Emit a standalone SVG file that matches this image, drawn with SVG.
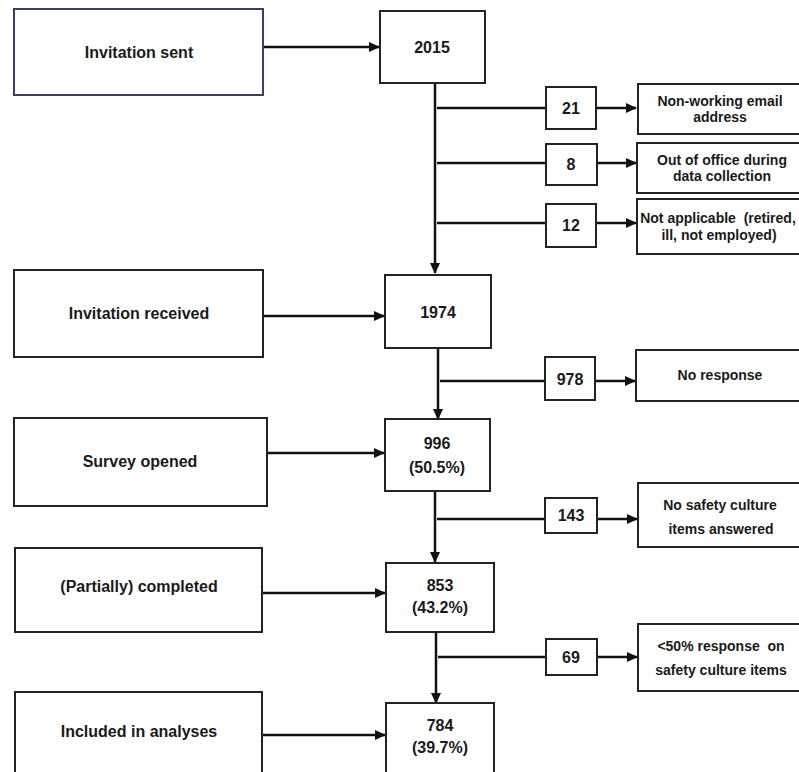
<svg xmlns="http://www.w3.org/2000/svg" width="799" height="772" viewBox="0 0 799 772">
<defs>
<style>
.box{fill:#fff;stroke:#222;stroke-width:2}
.blue{stroke:#3a3f68}
.t{font-family:"Liberation Sans",Arial,sans-serif;font-weight:bold;font-size:16px;fill:#1a1a1a;text-anchor:middle}
.s{font-size:14px}
.ln{fill:none;stroke:#111;stroke-width:2.5}
</style>
<marker id="ah" markerWidth="11" markerHeight="11" refX="10" refY="5.5" orient="auto" markerUnits="userSpaceOnUse">
<path d="M0,0.5 L11,5.5 L0,10.5 Z" fill="#111"/>
</marker>
</defs>
<rect width="799" height="772" fill="#fff"/>
<g id="connectors">
<line class="ln" x1="263" y1="47" x2="379" y2="47" marker-end="url(#ah)"/>
<line class="ln" x1="435" y1="83" x2="435" y2="273" marker-end="url(#ah)"/>
<line class="ln" x1="437" y1="108" x2="546" y2="108"/>
<line class="ln" x1="596" y1="108" x2="636" y2="108" marker-end="url(#ah)"/>
<line class="ln" x1="437" y1="163" x2="546" y2="163"/>
<line class="ln" x1="597" y1="163" x2="636" y2="163" marker-end="url(#ah)"/>
<line class="ln" x1="437" y1="223" x2="546" y2="223"/>
<line class="ln" x1="596" y1="223" x2="636" y2="223" marker-end="url(#ah)"/>
<line class="ln" x1="263" y1="316" x2="384" y2="316" marker-end="url(#ah)"/>
<line class="ln" x1="438" y1="348" x2="438" y2="419" marker-end="url(#ah)"/>
<line class="ln" x1="440" y1="381" x2="545" y2="381"/>
<line class="ln" x1="595" y1="381" x2="635" y2="381" marker-end="url(#ah)"/>
<line class="ln" x1="267" y1="453" x2="384" y2="453" marker-end="url(#ah)"/>
<line class="ln" x1="435" y1="491" x2="435" y2="562" marker-end="url(#ah)"/>
<line class="ln" x1="437" y1="519" x2="545" y2="519"/>
<line class="ln" x1="597" y1="519" x2="637" y2="519" marker-end="url(#ah)"/>
<line class="ln" x1="262" y1="593" x2="385" y2="593" marker-end="url(#ah)"/>
<line class="ln" x1="436" y1="632" x2="436" y2="703" marker-end="url(#ah)"/>
<line class="ln" x1="438" y1="657" x2="546" y2="657"/>
<line class="ln" x1="597" y1="657" x2="637" y2="657" marker-end="url(#ah)"/>
<line class="ln" x1="262" y1="735" x2="385" y2="735" marker-end="url(#ah)"/>
</g>
<g id="invitation-sent"><rect class="box blue" x="14" y="9" width="249" height="86"/><text class="t" x="139" y="58">Invitation sent</text></g>
<g id="n2015"><rect class="box" x="380" y="11" width="105" height="72"/><text class="t" x="432" y="53">2015</text></g>
<g id="n21"><rect class="box" x="546" y="87" width="50" height="42"/><text class="t" x="571" y="114">21</text></g>
<g id="non-working"><rect class="box" x="638" y="84" width="170" height="50"/><text class="t s" x="720" y="106">Non-working email</text><text class="t s" x="720" y="122">address</text></g>
<g id="n8"><rect class="box" x="546" y="144" width="51" height="41"/><text class="t" x="571" y="170">8</text></g>
<g id="out-of-office"><rect class="box" x="637" y="143" width="170" height="50"/><text class="t s" x="722" y="165">Out of office during</text><text class="t s" x="722" y="181">data collection</text></g>
<g id="n12"><rect class="box" x="546" y="204" width="50" height="43"/><text class="t" x="571" y="231">12</text></g>
<g id="not-applicable"><rect class="box" x="637" y="199" width="170" height="55"/><text class="t s" x="718" y="223" xml:space="preserve">Not applicable  (retired,</text><text class="t s" x="719" y="240">ill, not employed)</text></g>
<g id="invitation-received"><rect class="box" x="14" y="270" width="249" height="87"/><text class="t" x="139" y="319">Invitation received</text></g>
<g id="n1974"><rect class="box" x="385" y="275" width="106" height="73"/><text class="t" x="438" y="318">1974</text></g>
<g id="n978"><rect class="box" x="545" y="357" width="50" height="43"/><text class="t" x="570" y="385">978</text></g>
<g id="no-response"><rect class="box" x="636" y="350" width="170" height="51"/><text class="t s" x="720" y="380">No response</text></g>
<g id="survey-opened"><rect class="box" x="14" y="418" width="253" height="88"/><text class="t" x="140" y="467">Survey opened</text></g>
<g id="n996"><rect class="box" x="385" y="419" width="105" height="72"/><text class="t" x="437" y="449">996</text><text class="t" x="437" y="473">(50.5%)</text></g>
<g id="n143"><rect class="box" x="545" y="498" width="52" height="35"/><text class="t" x="571" y="521">143</text></g>
<g id="no-safety"><rect class="box" x="638" y="483" width="170" height="64"/><text class="t s" x="720" y="510">No safety culture</text><text class="t s" x="721" y="534">items answered</text></g>
<g id="partially-completed"><rect class="box" x="15" y="548" width="247" height="84"/><text class="t" x="139" y="592">(Partially) completed</text></g>
<g id="n853"><rect class="box" x="386" y="563" width="108" height="69"/><text class="t" x="440" y="591">853</text><text class="t" x="440" y="613">(43.2%)</text></g>
<g id="n69"><rect class="box" x="546" y="639" width="51" height="36"/><text class="t" x="571" y="663">69</text></g>
<g id="lt50"><rect class="box" x="638" y="624" width="170" height="67"/><text class="t s" x="721" y="651" xml:space="preserve">&lt;50% response  on</text><text class="t s" x="721" y="675">safety culture items</text></g>
<g id="included"><rect class="box" x="15" y="692" width="247" height="90"/><text class="t" x="139" y="737">Included in analyses</text></g>
<g id="n784"><rect class="box" x="386" y="703" width="108" height="80"/><text class="t" x="440" y="731">784</text><text class="t" x="440" y="753">(39.7%)</text></g>
</svg>
